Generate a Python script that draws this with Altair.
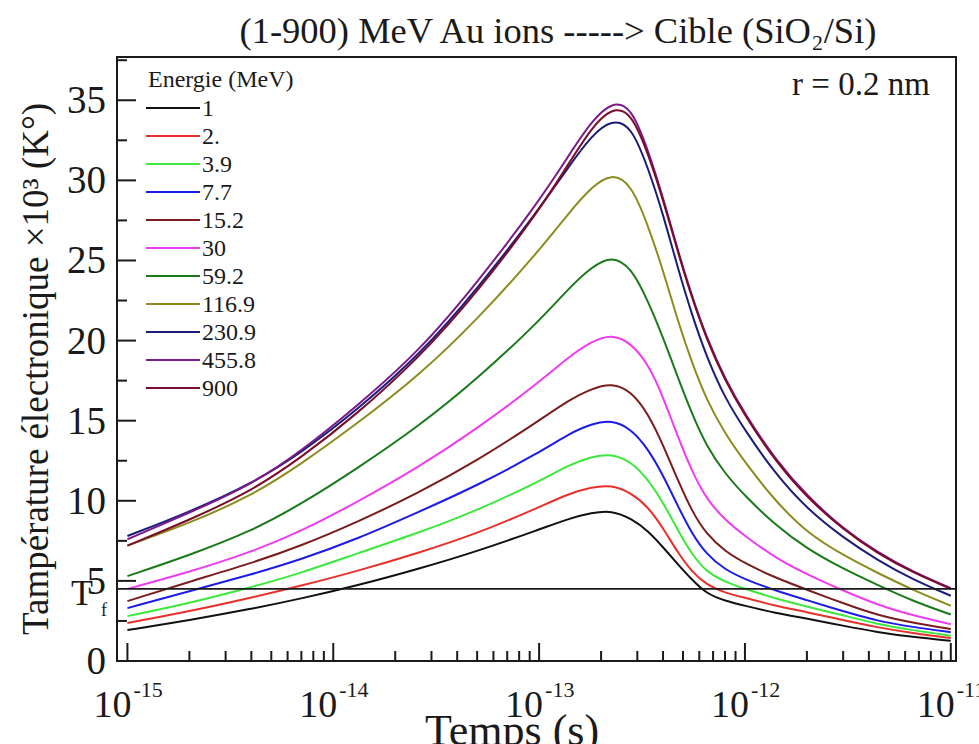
import altair as alt
import pandas as pd

# ---------------- data ----------------
times = [1e-15, 2e-15, 4e-15, 7e-15, 1.3e-14, 2.6e-14, 5e-14, 1e-13, 1.4e-13, 1.8e-13,
         2.25e-13, 2.8e-13, 3.4e-13, 4e-13, 4.75e-13, 5.5e-13, 6.5e-13, 8e-13, 1e-12,
         1.4e-12, 2e-12, 3e-12, 4.4e-12, 6.5e-12, 1e-11]

energies = ["1", "2.", "3.9", "7.7", "15.2", "30", "59.2", "116.9", "230.9", "455.8", "900"]
colors = ["#111111", "#e8302a", "#3ce83c", "#1c1ce8", "#7a1c1c", "#f03cf0",
          "#1a7a1a", "#8c8c1e", "#1c1c7a", "#7a1a8c", "#7a0c2c"]

T_1 = [1.93, 2.55, 3.25, 3.9, 4.7, 5.75, 6.85, 8.2, 8.9, 9.25, 9.4, 8.9, 8.1, 7.1, 6.0, 5.1, 4.2, 3.75, 3.45, 3.0, 2.65, 2.2, 1.8, 1.5, 1.26]
T_2 = [2.37, 3.1, 3.95, 4.7, 5.6, 6.75, 7.95, 9.6, 10.45, 10.85, 11.0, 10.5, 9.6, 8.3, 6.7, 5.6, 4.75, 4.25, 3.95, 3.45, 3.05, 2.55, 2.1, 1.74, 1.43]
T_3_9 = [2.8, 3.6, 4.6, 5.5, 6.7, 8.0, 9.4, 11.2, 12.25, 12.75, 12.95, 12.45, 11.3, 9.9, 8.1, 6.7, 5.55, 4.95, 4.5, 3.9, 3.4, 2.85, 2.3, 1.92, 1.58]
T_7_7 = [3.3, 4.35, 5.4, 6.35, 7.6, 9.3, 10.95, 13.0, 14.2, 14.8, 15.05, 14.5, 13.2, 11.6, 9.6, 8.0, 6.65, 5.7, 5.1, 4.4, 3.8, 3.1, 2.5, 2.12, 1.8]
T_15_2 = [3.74, 4.95, 6.1, 7.2, 8.65, 10.5, 12.5, 15.0, 16.3, 17.0, 17.35, 16.85, 15.4, 13.5, 11.2, 9.4, 7.9, 6.85, 6.1, 5.2, 4.45, 3.6, 2.85, 2.4, 2.0]
T_30 = [4.5, 5.55, 6.8, 8.1, 9.9, 12.1, 14.5, 17.4, 19.0, 19.95, 20.4, 19.85, 18.5, 16.5, 13.9, 11.9, 10.1, 8.8, 7.8, 6.45, 5.4, 4.4, 3.5, 2.85, 2.3]
T_59_2 = [5.3, 6.6, 8.1, 9.8, 12.0, 14.65, 17.6, 21.2, 23.3, 24.6, 25.3, 24.6, 22.4, 20.2, 17.6, 15.5, 13.4, 11.7, 10.3, 8.5, 7.0, 5.75, 4.75, 3.75, 2.9]
T_116_9 = [7.2, 8.6, 10.3, 12.3, 14.8, 17.8, 21.3, 25.6, 28.0, 29.6, 30.45, 29.8, 27.1, 24.4, 21.1, 18.7, 16.3, 14.2, 12.4, 10.0, 8.0, 6.6, 5.5, 4.45, 3.45]
T_230_9 = [7.8, 9.3, 11.05, 13.0, 15.65, 19.05, 23.2, 28.2, 30.9, 32.8, 33.8, 33.45, 30.7, 27.9, 24.4, 21.7, 19.0, 16.4, 14.4, 11.7, 9.5, 7.7, 6.3, 5.1, 4.07]
T_455_8 = [7.6, 9.25, 11.0, 13.1, 15.9, 19.3, 23.6, 28.7, 31.6, 33.7, 34.9, 34.65, 31.8, 28.95, 25.5, 22.85, 20.2, 17.6, 15.4, 12.6, 10.3, 8.25, 6.78, 5.58, 4.55]
T_900 = [7.2, 8.8, 10.6, 12.7, 15.4, 18.9, 23.0, 28.1, 31.1, 33.3, 34.55, 34.3, 31.6, 28.8, 25.4, 22.75, 20.1, 17.5, 15.3, 12.5, 10.2, 8.2, 6.72, 5.53, 4.5]

series = [T_1, T_2, T_3_9, T_7_7, T_15_2, T_30, T_59_2, T_116_9, T_230_9, T_455_8, T_900]

T_f = 4.5
y_major = [0, 5, 10, 15, 20, 25, 30, 35]
y_minor = [2.5, 7.5, 12.5, 17.5, 22.5, 27.5, 32.5, 37.5]
x_major = [1e-15, 1e-14, 1e-13, 1e-12, 1e-11]
x_major_exp = ["-15", "-14", "-13", "-12", "-11"]
x_minor = [k * 10.0 ** e for e in (-15, -14, -13, -12) for k in range(2, 10)]

# ---------------- layout ----------------
W, H = 839, 604
FONT = "Liberation Serif"
INK = "#1a1a1a"
xdom = [8.9e-16, 1.06e-11]
ydom = [0, 37.7]

rows = []
for e, vals in zip(energies, series):
    for t, v in zip(times, vals):
        rows.append({"t": t, "T": v, "E": e})
df = pd.DataFrame(rows)

xs = alt.Scale(type="log", domain=xdom, nice=False)
ys = alt.Scale(domain=ydom, nice=False, zero=False)
cs = alt.Scale(domain=energies, range=colors)

lines = alt.Chart(df).mark_line(strokeWidth=2, interpolate="basis", clip=True).encode(
    x=alt.X("t:Q", scale=xs, axis=None),
    y=alt.Y("T:Q", scale=ys, axis=None),
    color=alt.Color("E:N", scale=cs, legend=None),
    detail="E:N",
)

tf_rule = alt.Chart(pd.DataFrame({"v": [T_f]})).mark_rule(color=INK, strokeWidth=1.6).encode(
    y=alt.Y("v:Q", scale=ys, axis=None), x=alt.value(0), x2=alt.value(W))

ymaj = alt.Chart(pd.DataFrame({"v": y_major})).mark_rule(color=INK, strokeWidth=2).encode(
    y=alt.Y("v:Q", scale=ys, axis=None), x=alt.value(0), x2=alt.value(19))
ymin = alt.Chart(pd.DataFrame({"v": y_minor})).mark_rule(color=INK, strokeWidth=2).encode(
    y=alt.Y("v:Q", scale=ys, axis=None), x=alt.value(0), x2=alt.value(10))
xmaj = alt.Chart(pd.DataFrame({"t": x_major})).mark_rule(color=INK, strokeWidth=2).encode(
    x=alt.X("t:Q", scale=xs, axis=None), y=alt.value(H), y2=alt.value(H - 18))
xmin = alt.Chart(pd.DataFrame({"t": x_minor})).mark_rule(color=INK, strokeWidth=2).encode(
    x=alt.X("t:Q", scale=xs, axis=None), y=alt.value(H), y2=alt.value(H - 10))

ylab = alt.Chart(pd.DataFrame({"v": y_major})).mark_text(
    font=FONT, fontSize=39, align="right", baseline="middle", color=INK, dy=1).encode(
    y=alt.Y("v:Q", scale=ys, axis=None), x=alt.value(-11), text="v:Q")

xlab_df = pd.DataFrame({"t": x_major, "exp": x_major_exp})
xlab10 = alt.Chart(xlab_df).mark_text(font=FONT, fontSize=38, align="right", baseline="alphabetic",
                                      color=INK, dx=4).encode(
    x=alt.X("t:Q", scale=xs, axis=None), y=alt.value(H + 56), text=alt.value("10"))
xlabexp = alt.Chart(xlab_df).mark_text(font=FONT, fontSize=22, align="left", baseline="alphabetic",
                                       color=INK, dx=6).encode(
    x=alt.X("t:Q", scale=xs, axis=None), y=alt.value(H + 36), text="exp:N")

def label(txt, x, y, size, **kw):
    return alt.Chart(pd.DataFrame({"s": [txt]})).mark_text(
        font=FONT, fontSize=size, color=INK, **kw).encode(
        x=alt.value(x), y=alt.value(y), text="s:N")

title = label("(1-900) MeV Au ions -----> Cible (SiO\u2082/Si)", 441, -14, 36.5,
              align="center", baseline="alphabetic")
xtitle = label("Temps (s)", 395, 688, 44, align="center", baseline="alphabetic")
ytitle = label("Tamp\u00e9rature \u00e9lectronique \u00d710\u00b3 (K\u00b0)", -80, 312, 37,
               align="center", baseline="middle", angle=270)
rlab = label("r = 0.2 nm", 744, 38, 33, align="center", baseline="alphabetic")
tf_T = label("T", -46, 548, 36, align="left", baseline="alphabetic")
tf_f = label("f", -16, 559, 18, align="left", baseline="alphabetic")
leg_title = label("Energie (MeV)", 31, 23, 24, align="left", baseline="middle")

leg_df = pd.DataFrame({"E": energies})
leg_y = alt.Y("E:N", scale=alt.Scale(type="point", domain=energies, range=[51, 331], padding=0),
              axis=None)
leg_lines = alt.Chart(leg_df).mark_rule(strokeWidth=2).encode(
    x=alt.value(29), x2=alt.value(83), y=leg_y,
    color=alt.Color("E:N", scale=cs, legend=None))
leg_text = alt.Chart(leg_df).mark_text(font=FONT, fontSize=24, align="left", baseline="middle",
                                       color=INK, dy=1).encode(
    x=alt.value(85), y=leg_y, text="E:N")

main = alt.layer(lines, tf_rule, ymaj, ymin, xmaj, xmin, ylab, xlab10, xlabexp,
                 title, xtitle, ytitle, rlab, tf_T, tf_f, leg_title)
legend = alt.layer(leg_lines, leg_text)

chart = alt.layer(main, legend).resolve_scale(y="independent").properties(
    width=W, height=H,
    autosize=alt.AutoSizeParams(type="none"),
    padding={"left": 117, "top": 57, "right": 23, "bottom": 83},
    background="white",
).configure_view(stroke=INK, strokeWidth=2)

chart.save("out.html", embed_options={"renderer": "svg", "actions": False})
